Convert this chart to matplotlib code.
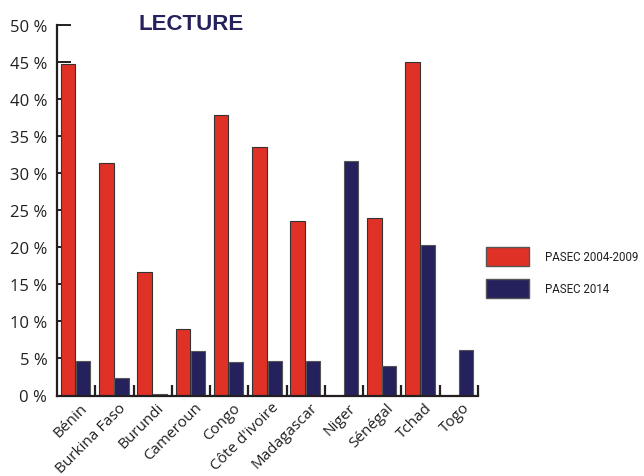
import matplotlib
matplotlib.use("Agg")
import matplotlib.pyplot as plt
from matplotlib.patches import Patch
import numpy as np

countries = ["Bénin", "Burkina Faso", "Burundi", "Cameroun", "Congo", "Côte d'ivoire",
             "Madagascar", "Niger", "Sénégal", "Tchad", "Togo"]
pasec_2004_2009 = [44.8, 31.4, 16.6, 9.0, 37.9, 33.6, 23.6, 0.0, 24.0, 45.0, 0.0]
pasec_2014 = [4.6, 2.3, 0.2, 6.0, 4.5, 4.7, 4.7, 31.7, 4.0, 20.3, 6.2]
yticks = [0, 5, 10, 15, 20, 25, 30, 35, 40, 45, 50]
series_names = ["PASEC 2004-2009", "PASEC 2014"]
title = "LECTURE"

red = "#e03127"
navy = "#25215c"
txt = "#231f20"

fig = plt.figure(figsize=(6.44, 4.77), dpi=100)
ax = fig.add_axes([57/644, 1-396.5/477, (478-57)/644, (396.5-26)/477])

x = np.arange(len(countries))
ax.bar(x + 0.29, pasec_2004_2009, width=0.38, color=red, edgecolor="#333333", linewidth=0.8, zorder=3)
ax.bar(x + 0.685, pasec_2014, width=0.37, color=navy, edgecolor="#555555", linewidth=0.8, zorder=3)

ax.set_xlim(0, len(countries))
ax.set_ylim(0, 50)

for s in ["top", "right"]:
    ax.spines[s].set_visible(False)
for s in ["left", "bottom"]:
    ax.spines[s].set_linewidth(1.6)
    ax.spines[s].set_color(txt)
    ax.spines[s].set_zorder(4)

ax.set_yticks(yticks)
ax.set_yticklabels([f"{v} %" for v in yticks], fontsize=12, color=txt, family=["Open Sans", "DejaVu Sans"])
ax.tick_params(axis="y", direction="in", length=10, width=1.4, color=txt, pad=7)

ax.set_xticks(np.arange(1, len(countries) + 1))
ax.set_xticklabels([])
ax.tick_params(axis="x", which="major", direction="in", length=8, width=1.6, color=txt)
ax.set_xticks(x + 0.6, minor=True)
ax.set_xticklabels(countries, minor=True, rotation=45, ha="right", rotation_mode="anchor",
                   fontsize=11, color=txt, family=["Open Sans", "DejaVu Sans"])
ax.tick_params(axis="x", which="minor", length=0, pad=3)

fig.text(138/644, 1-24/477, title, fontsize=16, fontweight="bold", color=navy,
         family=["Liberation Sans", "DejaVu Sans"], ha="left", va="center")

handles = [Patch(facecolor=red, edgecolor="#555555", linewidth=1.0),
           Patch(facecolor=navy, edgecolor="#555555", linewidth=1.0)]
fig.legend(handles, series_names, loc="upper left", bbox_to_anchor=(486/644, 1-248/477),
           frameon=False, borderpad=0, borderaxespad=0,
           handlelength=3.7, handleheight=2.2, labelspacing=1.1, handletextpad=1.4,
           prop={"family": ["Roboto", "DejaVu Sans"], "size": 8.3}, labelcolor=txt)

fig.savefig("out.png", dpi=100)
